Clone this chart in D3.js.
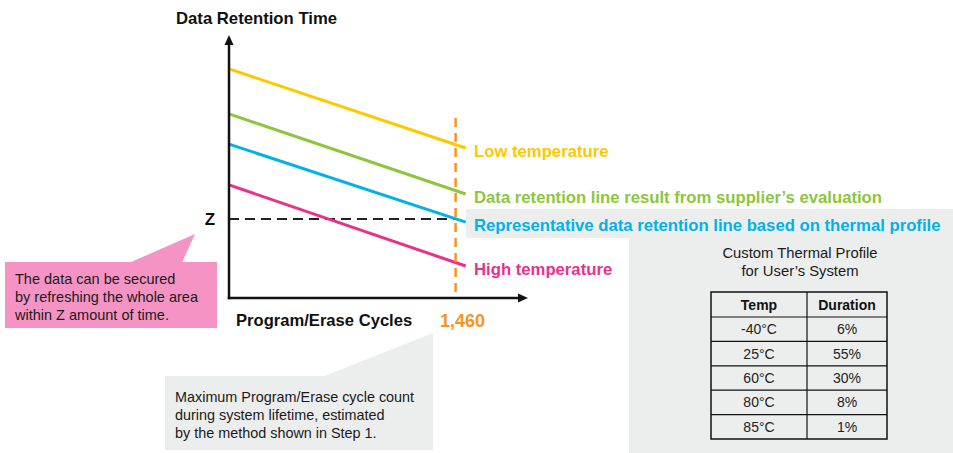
<!DOCTYPE html>
<html><head><meta charset="utf-8">
<script src="https://cdn.jsdelivr.net/npm/d3@7"></script>
<style>body{margin:0;background:#fff}svg{display:block}text{font-family:"Liberation Sans",Arial,sans-serif}</style>
</head><body><div id="chart"></div>
<script>
// ---- data ----
const seriesNames = ["Low temperature","Data retention line result from supplier\u2019s evaluation","Representative data retention line based on thermal profile","High temperature"];
const seriesColors = ["#fdc800","#8cc63f","#00b2e8","#e8318a"];
const seriesStart = [88.1, 70.8, 59.2, 43.5];   // retention at 0 cycles
const seriesEnd   = [57.7, 40.0, 29.2, 12.3];   // retention at end cycles
const cycleStart = 0, cycleEnd = 1525;
const maxCycles = 1460;
const zValue = 30.4;
const tableHeader = ["Temp","Duration"];
const tableTemps = ["-40\u00B0C","25\u00B0C","60\u00B0C","80\u00B0C","85\u00B0C"];
const tableDurations = ["6%","55%","30%","8%","1%"];

const W = 953, H = 453;
const svg = d3.select("#chart").append("svg").attr("width",W).attr("height",H);

const x = d3.scaleLinear().domain([0,1920]).range([229,527]);
const y = d3.scaleLinear().domain([0,100]).range([298,38]);

// gray panels
svg.append("rect").attr("x",466).attr("y",209).attr("width",W-466).attr("height",29).attr("fill","#eceeed");
svg.append("rect").attr("x",629).attr("y",238).attr("width",W-629).attr("height",H-238).attr("fill","#eceeed");

// pink callout
svg.append("rect").attr("x",5).attr("y",262).attr("width",212).attr("height",66).attr("fill","#f594c4");
svg.append("path").attr("d","M130,262.5 L195,234 L182,262.5 Z").attr("fill","#f594c4");
const pinkLines = ["The data can be secured","by refreshing the whole area","within Z amount of time."];
svg.append("g").selectAll("text").data(pinkLines).join("text")
  .attr("x",15).attr("y",(d,i)=>284+i*18).attr("font-size",14.5).attr("fill","#1a1a1a").text(d=>d);

// gray callout
svg.append("rect").attr("x",165).attr("y",376).attr("width",268).attr("height",74).attr("fill","#eceeed");
svg.append("path").attr("d","M323,376.5 L433,333 L433,376.5 Z").attr("fill","#eceeed");
const grayLines = ["Maximum Program/Erase cycle count","during system lifetime, estimated","by the method shown in Step 1."];
svg.append("g").selectAll("text").data(grayLines).join("text")
  .attr("x",175).attr("y",(d,i)=>402+i*18).attr("font-size",14.4).attr("fill","#1a1a1a").text(d=>d);

// Z dashed
svg.append("line").attr("x1",x(0)).attr("x2",x(maxCycles)).attr("y1",y(zValue)).attr("y2",y(zValue))
  .attr("stroke","#222").attr("stroke-width",2).attr("stroke-dasharray","10,6");
svg.append("text").attr("x",210).attr("y",y(zValue)).attr("dy","0.36em").attr("text-anchor","middle")
  .attr("font-size",17).attr("font-weight","bold").attr("fill","#111").text("Z");

// series lines
seriesNames.forEach((n,i)=>{
  svg.append("line").attr("x1",x(cycleStart)).attr("y1",y(seriesStart[i]))
    .attr("x2",x(cycleEnd)).attr("y2",y(seriesEnd[i]))
    .attr("stroke",seriesColors[i]).attr("stroke-width",3);
  svg.append("text").attr("x",474).attr("y",y(seriesEnd[i])+3).attr("dy","0.36em")
    .attr("font-size",16.7).attr("font-weight","bold").attr("fill",seriesColors[i]).text(n);
});

// orange vertical dashed
svg.append("line").attr("x1",x(maxCycles)).attr("x2",x(maxCycles)).attr("y1",118).attr("y2",y(0))
  .attr("stroke","#f7941d").attr("stroke-width",2.5).attr("stroke-dasharray","9,6");
svg.append("text").attr("x",440).attr("y",327)
  .attr("font-size",18).attr("font-weight","bold").attr("fill","#f7941d").text(d3.format(",")(maxCycles));

// axes
const ax = svg.append("g").attr("stroke","#111").attr("stroke-width",2.5);
ax.append("line").attr("x1",x(0)).attr("x2",x(0)).attr("y1",y(0)+1.2).attr("y2",43);
ax.append("line").attr("x1",x(0)-1.2).attr("x2",518).attr("y1",y(0)).attr("y2",y(0));
svg.append("path").attr("d",`M${x(0)},35 L${x(0)+4.5},45 L${x(0)-4.5},45 Z`).attr("fill","#111");
svg.append("path").attr("d",`M528,${y(0)} L518,${y(0)-4.5} L518,${y(0)+4.5} Z`).attr("fill","#111");
svg.append("text").attr("x",176).attr("y",24).attr("font-size",16.7).attr("font-weight","bold").attr("fill","#111").text("Data Retention Time");
svg.append("text").attr("x",236).attr("y",326).attr("font-size",16.6).attr("font-weight","bold").attr("fill","#111").text("Program/Erase Cycles");

// thermal profile table
svg.append("text").attr("x",800).attr("y",258).attr("text-anchor","middle").attr("font-size",14.8).attr("fill","#1a1a1a").text("Custom Thermal Profile");
svg.append("text").attr("x",800).attr("y",276).attr("text-anchor","middle").attr("font-size",14.8).attr("fill","#1a1a1a").text("for User\u2019s System");
const tx0 = 711, tx1 = 807, tx2 = 887, ty0 = 292, hh = 25, rh = 24.4;
const rowsY = [ty0, ty0+hh].concat(tableTemps.map((d,i)=>ty0+hh+(i+1)*rh));
const tg = svg.append("g");
tg.append("rect").attr("x",tx0).attr("y",ty0).attr("width",tx2-tx0).attr("height",rowsY[rowsY.length-1]-ty0)
  .attr("fill","#eceeed").attr("stroke","#111").attr("stroke-width",1.5);
tg.selectAll("line.h").data(rowsY.slice(1,-1)).join("line").attr("x1",tx0).attr("x2",tx2).attr("y1",d=>d).attr("y2",d=>d)
  .attr("stroke","#111").attr("stroke-width",1.2);
tg.append("line").attr("x1",tx1).attr("x2",tx1).attr("y1",ty0).attr("y2",rowsY[rowsY.length-1]).attr("stroke","#111").attr("stroke-width",1.2);
tableHeader.forEach((h,j)=>{
  tg.append("text").attr("x",j?(tx1+tx2)/2:(tx0+tx1)/2).attr("y",ty0+hh/2).attr("dy","0.36em").attr("text-anchor","middle")
    .attr("font-size",14).attr("font-weight","bold").attr("fill","#111").text(h);
});
tableTemps.forEach((t,i)=>{
  const cy = ty0+hh+i*rh+rh/2;
  tg.append("text").attr("x",(tx0+tx1)/2).attr("y",cy).attr("dy","0.36em").attr("text-anchor","middle").attr("font-size",14).attr("fill","#222").text(t);
  tg.append("text").attr("x",(tx1+tx2)/2).attr("y",cy).attr("dy","0.36em").attr("text-anchor","middle").attr("font-size",14).attr("fill","#222").text(tableDurations[i]);
});
</script></body></html>
